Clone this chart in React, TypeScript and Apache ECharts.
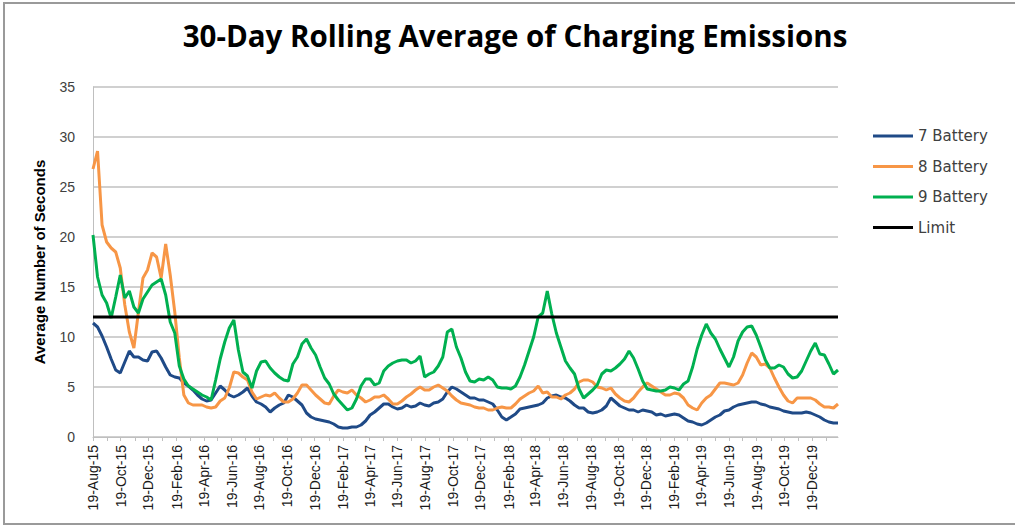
import React, { useEffect, useRef } from "react";
import * as echarts from "echarts";

const TITLE = "30-Day Rolling Average of Charging Emissions";
const Y_AXIS_NAME = "Average Number of Seconds";
const START_YEAR = 2015;
const START_MONTH = 7; // August (0-based)
const START_DAY = 19;
const AXIS_DAYS = 1640;
const SAMPLE_STEP_DAYS = 10;
const Y_MIN = 0;
const Y_MAX = 35;
const Y_INTERVAL = 5;
const MONTHS = ["Jan", "Feb", "Mar", "Apr", "May", "Jun", "Jul", "Aug", "Sep", "Oct", "Nov", "Dec"];
const LABEL_MONTHS = ["Aug", "Oct", "Dec", "Feb", "Apr", "Jun"];
const TICK_DAY = 19;

const SERIES_NAMES = ["7 Battery", "8 Battery", "9 Battery", "Limit"];
const SERIES_COLORS = ["#1f4a87", "#f79646", "#00b050", "#000000"];

const BATTERY_7 = [
  11.4, 11.0, 10.1, 9.0, 7.8, 6.7, 6.4, 7.5, 8.6, 8.0, 8.0, 7.7, 7.6, 8.5, 8.6, 7.9, 7.0, 6.2, 6.0, 5.9, 5.4, 5.1, 4.7, 4.2, 3.8, 3.6, 3.7, 4.4, 5.1, 4.7, 4.2, 4.0,
  4.2, 4.5, 4.9, 4.1, 3.5, 3.3, 3.0, 2.5, 2.9, 3.2, 3.4, 4.2, 4.0, 3.6, 3.2, 2.4, 2.0, 1.8, 1.7, 1.6, 1.5, 1.3, 1.0, 0.9, 0.9, 1.0, 1.0, 1.2, 1.6, 2.2, 2.5, 2.9, 3.3, 3.3,
  3.0, 2.8, 2.9, 3.2, 3.0, 3.1, 3.4, 3.2, 3.1, 3.4, 3.5, 3.8, 4.5, 5.0, 4.8, 4.5, 4.2, 3.9, 3.9, 3.7, 3.7, 3.5, 3.3, 2.7, 2.0, 1.7, 2.0, 2.3, 2.8, 2.9, 3.0, 3.1, 3.2,
  3.4, 3.9, 4.1, 4.2, 4.0, 3.9, 3.6, 3.2, 2.9, 2.9, 2.5, 2.4, 2.5, 2.7, 3.1, 3.9, 3.5, 3.1, 2.9, 2.7, 2.7, 2.5, 2.7, 2.6, 2.5, 2.2, 2.3, 2.1, 2.2, 2.3, 2.2, 1.9, 1.6,
  1.5, 1.3, 1.2, 1.4, 1.7, 2.0, 2.2, 2.6, 2.7, 3.0, 3.2, 3.3, 3.4, 3.5, 3.5, 3.3, 3.2, 3.0, 2.9, 2.8, 2.6, 2.5, 2.4, 2.4, 2.4, 2.5, 2.4, 2.2, 2.0, 1.7, 1.5, 1.4, 1.4,
];

const BATTERY_8 = [
  26.8, 28.6, 21.2, 19.5, 18.9, 18.5, 16.9, 13.2, 10.5, 8.9, 12.5, 15.9, 16.7, 18.4, 18.0, 15.9, 19.3, 16.2, 12.5, 7.9, 4.2, 3.4, 3.2, 3.2, 3.2, 3.0, 2.9, 3.0, 3.6, 3.9, 4.9, 6.5,
  6.4, 6.0, 5.7, 4.5, 3.8, 4.0, 4.2, 4.1, 4.4, 3.9, 3.5, 3.5, 3.8, 4.4, 5.2, 5.2, 4.7, 4.2, 3.8, 3.4, 3.3, 4.1, 4.7, 4.5, 4.4, 4.7, 4.2, 3.9, 3.5, 3.7, 4.0, 4.0, 4.2, 3.8,
  3.3, 3.3, 3.6, 4.0, 4.3, 4.7, 5.0, 4.7, 4.7, 5.0, 5.2, 4.9, 4.6, 4.1, 3.7, 3.4, 3.3, 3.2, 3.0, 2.9, 2.9, 2.7, 2.7, 2.9, 3.0, 2.9, 2.9, 3.3, 3.8, 4.1, 4.4, 4.6, 5.1,
  4.4, 4.5, 4.0, 4.0, 3.8, 4.2, 4.4, 4.8, 5.5, 5.7, 5.7, 5.5, 5.0, 4.9, 4.7, 4.9, 4.3, 3.9, 3.6, 3.5, 3.9, 4.5, 5.0, 5.4, 5.1, 4.8, 4.5, 4.2, 4.2, 4.4, 4.3, 3.9, 3.2,
  2.9, 2.7, 3.4, 3.9, 4.2, 4.8, 5.4, 5.4, 5.3, 5.2, 5.4, 6.2, 7.4, 8.4, 8.0, 7.2, 7.3, 6.9, 5.9, 5.0, 4.2, 3.6, 3.4, 3.9, 3.9, 3.9, 3.9, 3.7, 3.3, 3.0, 3.0, 2.9, 3.3,
];

const BATTERY_9 = [
  20.2, 16.0, 14.2, 13.4, 11.9, 14.0, 16.2, 13.9, 14.6, 13.0, 12.4, 13.8, 14.5, 15.2, 15.5, 15.8, 14.2, 11.5, 10.4, 7.1, 5.8, 5.1, 4.8, 4.5, 4.2, 4.0, 3.7, 5.7, 7.8, 9.5, 10.9, 11.7,
  8.7, 6.5, 6.1, 4.9, 6.6, 7.5, 7.6, 6.9, 6.4, 6.0, 5.7, 5.6, 7.3, 8.0, 9.3, 9.8, 8.9, 8.2, 7.0, 5.9, 5.3, 4.3, 3.7, 3.2, 2.7, 2.9, 3.8, 5.1, 5.8, 5.8, 5.2, 5.4, 6.6, 7.1,
  7.4, 7.6, 7.7, 7.7, 7.4, 7.6, 8.1, 6.0, 6.3, 6.5, 7.1, 8.0, 10.5, 10.8, 9.0, 7.9, 6.5, 5.6, 5.5, 5.8, 5.7, 6.0, 5.7, 5.0, 4.9, 4.9, 4.8, 5.1, 6.0, 7.2, 8.6, 10.0, 12.0,
  12.4, 14.6, 12.3, 10.4, 9.0, 7.6, 6.9, 6.3, 4.8, 3.9, 4.3, 4.7, 5.2, 6.3, 6.7, 6.6, 6.9, 7.3, 7.8, 8.6, 7.9, 6.8, 5.6, 4.8, 4.7, 4.6, 4.6, 4.7, 5.0, 4.9, 4.7, 5.3, 5.6,
  7.0, 8.8, 10.2, 11.3, 10.4, 9.8, 8.8, 7.9, 7.0, 8.0, 9.6, 10.5, 11.0, 11.1, 10.2, 9.0, 7.7, 6.9, 6.9, 7.2, 7.0, 6.3, 5.9, 6.0, 6.6, 7.6, 8.6, 9.4, 8.3, 8.2, 7.3, 6.3, 6.7,
];

const LIMIT = 12;

function buildCategories(): string[] {
  const out: string[] = [];
  const start = Date.UTC(START_YEAR, START_MONTH, START_DAY);
  for (let i = 0; i <= AXIS_DAYS; i++) {
    const d = new Date(start + i * 86400000);
    out.push(`${d.getUTCDate()}-${MONTHS[d.getUTCMonth()]}-${String(d.getUTCFullYear()).slice(2)}`);
  }
  return out;
}

function toPairs(values: number[]): [number, number][] {
  return values.map((v, i) => [i * SAMPLE_STEP_DAYS, v]);
}

export default function App() {
  const ref = useRef<HTMLDivElement>(null);

  useEffect(() => {
    if (!ref.current) return;
    const chart = echarts.init(ref.current, undefined, { renderer: "svg" });
    const categories = buildCategories();
    const isTick = (_i: number, v: string) => Number(String(v).split("-")[0]) === TICK_DAY;
    const isLabel = (_i: number, v: string) => {
      const p = String(v).split("-");
      return Number(p[0]) === TICK_DAY && LABEL_MONTHS.includes(p[1]);
    };
    const seriesData = [BATTERY_7, BATTERY_8, BATTERY_9];

    chart.setOption({
      animation: false,
      backgroundColor: "#ffffff",
      title: {
        text: TITLE,
        left: 510,
        textAlign: "center",
        top: 15,
        textStyle: {
          fontFamily: "Open Sans",
          fontWeight: "bold",
          fontSize: 29.5,
          color: "#000000",
        },
      },
      graphic: [
        {
          type: "rect",
          shape: { x: 4, y: 3, width: 1030, height: 521 },
          style: { fill: "none", stroke: "#9a9a9a", lineWidth: 2 },
          silent: true,
          z: 100,
        },
      ],
      legend: {
        orient: "vertical",
        left: 873,
        top: 128,
        padding: 0,
        itemWidth: 40,
        itemHeight: 3,
        itemGap: 14.5,
        icon: "rect",
        textStyle: {
          fontFamily: "DejaVu Sans",
          fontSize: 15,
          color: "#404040",
          lineHeight: 16,
        },
        data: SERIES_NAMES.map((n, i) => ({
          name: n,
          itemStyle: { color: SERIES_COLORS[i] },
        })),
      },
      grid: {
        left: 93,
        right: 177,
        top: 87,
        bottom: 89,
        containLabel: false,
      },
      xAxis: {
        type: "category",
        data: categories,
        boundaryGap: false,
        axisLine: { lineStyle: { color: "#bfbfbf", width: 1 } },
        axisTick: {
          show: true,
          interval: isTick,
          length: 4,
          lineStyle: { color: "#bfbfbf" },
        },
        axisLabel: {
          interval: isLabel,
          rotate: 90,
          margin: 8,
          fontFamily: "Liberation Sans",
          fontSize: 14,
          color: "#1a1a1a",
        },
        splitLine: { show: false },
      },
      yAxis: {
        type: "value",
        min: Y_MIN,
        max: Y_MAX,
        interval: Y_INTERVAL,
        name: Y_AXIS_NAME,
        nameLocation: "middle",
        nameGap: 46,
        nameTextStyle: {
          fontFamily: "Liberation Sans",
          fontWeight: "bold",
          fontSize: 15,
          color: "#000000",
        },
        axisLine: { show: true, lineStyle: { color: "#bfbfbf" } },
        axisTick: { show: false },
        axisLabel: {
          margin: 18,
          fontFamily: "Liberation Sans",
          fontSize: 14,
          color: "#404040",
        },
        splitLine: { lineStyle: { color: "#d0d0d0", width: 2 } },
      },
      series: [
        ...seriesData.map((vals, i) => ({
          name: SERIES_NAMES[i],
          type: "line",
          data: toPairs(vals),
          showSymbol: false,
          symbol: "none",
          lineStyle: { color: SERIES_COLORS[i], width: 3 },
          itemStyle: { color: SERIES_COLORS[i] },
          z: 2 + i,
        })),
        {
          name: SERIES_NAMES[3],
          type: "line",
          data: [
            [0, LIMIT],
            [AXIS_DAYS, LIMIT],
          ],
          showSymbol: false,
          symbol: "none",
          lineStyle: { color: SERIES_COLORS[3], width: 3 },
          itemStyle: { color: SERIES_COLORS[3] },
          z: 6,
        },
      ],
    });

    return () => chart.dispose();
  }, []);

  return (
    <div
      ref={ref}
      style={{ position: "fixed", left: 0, top: 0, width: 1015, height: 526 }}
    />
  );
}
